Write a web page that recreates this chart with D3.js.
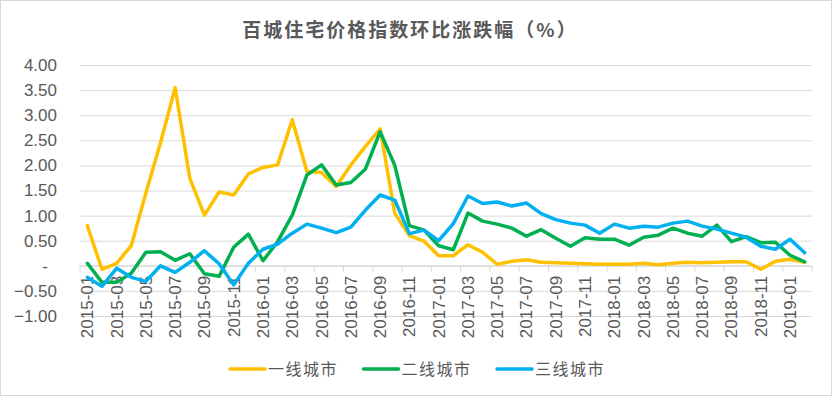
<!DOCTYPE html>
<html>
<head>
<meta charset="utf-8">
<script src="https://cdn.jsdelivr.net/npm/d3@7"></script>
<style>
  body { margin: 0; background: #fff; }
  text { font-family: "Liberation Sans", Arial, sans-serif; fill: #595959; }
  .cjk { font-family: "Noto Sans CJK SC", sans-serif; }
</style>
</head>
<body>
<div id="chart"></div>
<script>
// months 2015-01 .. 2019-02
const months = [];
for (let yr = 2015; yr <= 2019; yr++) {
  for (let m = 1; m <= 12; m++) {
    if (yr === 2019 && m > 2) break;
    months.push(yr + "-" + String(m).padStart(2, "0"));
  }
}

const seriesNames = ["一线城市", "二线城市", "三线城市"];
const colors = ["#FFC000", "#00B050", "#00B0F0"];

const tier1 = [0.80, -0.07, 0.05, 0.40, 1.45, 2.45, 3.55, 1.74, 1.01, 1.47,
  1.41, 1.83, 1.96, 2.01, 2.91, 1.88, 1.86, 1.58, 2.01, 2.38,
  2.73, 1.05, 0.60, 0.49, 0.20, 0.20, 0.42, 0.27, 0.03, 0.09,
  0.12, 0.07, 0.06, 0.05, 0.04, 0.03, 0.03, 0.03, 0.05, 0.02,
  0.05, 0.07, 0.06, 0.07, 0.08, 0.08, -0.07, 0.09, 0.13, 0.07];
const tier2 = [0.05, -0.33, -0.33, -0.15, 0.27, 0.28, 0.11, 0.24, -0.16, -0.21,
  0.37, 0.63, 0.10, 0.48, 1.01, 1.81, 2.01, 1.61, 1.66, 1.93,
  2.67, 2.00, 0.80, 0.71, 0.40, 0.32, 1.05, 0.89, 0.83, 0.75,
  0.59, 0.72, 0.55, 0.39, 0.56, 0.53, 0.53, 0.41, 0.57, 0.61,
  0.75, 0.65, 0.59, 0.81, 0.48, 0.58, 0.46, 0.47, 0.21, 0.08];
const tier3 = [-0.23, -0.41, -0.05, -0.23, -0.31, 0.00, -0.13, 0.07, 0.30, 0.04,
  -0.38, 0.05, 0.33, 0.43, 0.65, 0.83, 0.75, 0.66, 0.77, 1.11,
  1.41, 1.31, 0.64, 0.71, 0.50, 0.84, 1.39, 1.24, 1.27, 1.19,
  1.25, 1.04, 0.92, 0.85, 0.81, 0.65, 0.83, 0.75, 0.79, 0.77,
  0.85, 0.89, 0.79, 0.73, 0.65, 0.57, 0.39, 0.33, 0.53, 0.26];

const yTicks = [-1, -0.5, 0, 0.5, 1, 1.5, 2, 2.5, 3, 3.5, 4];

const W = 832, H = 396;
const plot = { left: 80, right: 812, top: 65, bottom: 316 };

const svg = d3.select("#chart").append("svg")
  .attr("width", W)
  .attr("height", H);

// chart border
svg.append("rect")
  .attr("x", 0.5).attr("y", 0.5)
  .attr("width", W - 1).attr("height", H - 1)
  .attr("fill", "#fff")
  .attr("stroke", "#D9D9D9");

const x = d3.scaleBand().domain(months).range([plot.left, plot.right]);
const y = d3.scaleLinear().domain([-1, 4]).range([plot.bottom, plot.top]);
const cx = d => x(d) + x.bandwidth() / 2;

// gridlines + y labels
const yAxis = svg.append("g")
  .attr("transform", "translate(" + plot.left + ",0)")
  .call(d3.axisLeft(y)
    .tickValues(yTicks)
    .tickSize(-(plot.right - plot.left))
    .tickPadding(23)
    .tickFormat(v => v === 0 ? "-" : d3.format(".2f")(v)));
yAxis.select(".domain").remove();
yAxis.selectAll("line").attr("stroke", "#D9D9D9");
yAxis.selectAll("text")
  .style("font-size", "17px")
  .style("font-family", "Liberation Sans, Arial, sans-serif")
  .attr("fill", "#595959");
yAxis.selectAll("text").filter(d => d === 0).attr("dx", -9);

// x axis line at zero
const x0 = y(0);
svg.append("line")
  .attr("x1", plot.left).attr("x2", plot.right)
  .attr("y1", x0).attr("y2", x0)
  .attr("stroke", "#D9D9D9");

// tick marks on category boundaries, every 2 months
const tickIdx = d3.range(0, months.length + 1, 2);
svg.append("g").selectAll("line")
  .data(tickIdx)
  .enter().append("line")
  .attr("x1", k => plot.left + k * x.step())
  .attr("x2", k => plot.left + k * x.step())
  .attr("y1", x0).attr("y2", x0 + 6)
  .attr("stroke", "#D9D9D9");

// x labels
const labelMonths = months.filter((d, i) => i % 2 === 0);
svg.append("g").selectAll("text")
  .data(labelMonths)
  .enter().append("text")
  .attr("transform", d => "translate(" + cx(d) + "," + (x0 + 10) + ") rotate(-90)")
  .attr("dy", "0.35em")
  .attr("text-anchor", "end")
  .style("font-size", "17px")
  .text(d => d);

// lines
const allSeries = [tier1, tier2, tier3];
const line = d3.line()
  .x((d, i) => cx(months[i]))
  .y(d => y(d));

svg.append("g").selectAll("path")
  .data(allSeries)
  .enter().append("path")
  .attr("d", line)
  .attr("fill", "none")
  .attr("stroke", (d, i) => colors[i])
  .attr("stroke-width", 3.5)
  .attr("stroke-linejoin", "round")
  .attr("stroke-linecap", "round");

// title
svg.append("text")
  .attr("class", "cjk")
  .attr("x", 410)
  .attr("y", 37)
  .attr("text-anchor", "middle")
  .style("font-size", "19px")
  .style("font-weight", "bold")
  .style("letter-spacing", "2px")
  .text("百城住宅价格指数环比涨跌幅（%）");

// legend
const legend = svg.append("g")
  .attr("transform", "translate(230,369)");
const item = legend.selectAll("g")
  .data(seriesNames)
  .enter().append("g")
  .attr("transform", (d, i) => "translate(" + (i * 133.5) + ",0)");
item.append("line")
  .attr("x1", 0).attr("x2", 35)
  .attr("stroke", (d, i) => colors[i])
  .attr("stroke-width", 3.5)
  .attr("stroke-linecap", "round");
item.append("text")
  .attr("class", "cjk")
  .attr("x", 38)
  .attr("dy", "0.35em")
  .style("font-size", "16px")
  .style("letter-spacing", "1.5px")
  .text(d => d);
</script>
</body>
</html>
